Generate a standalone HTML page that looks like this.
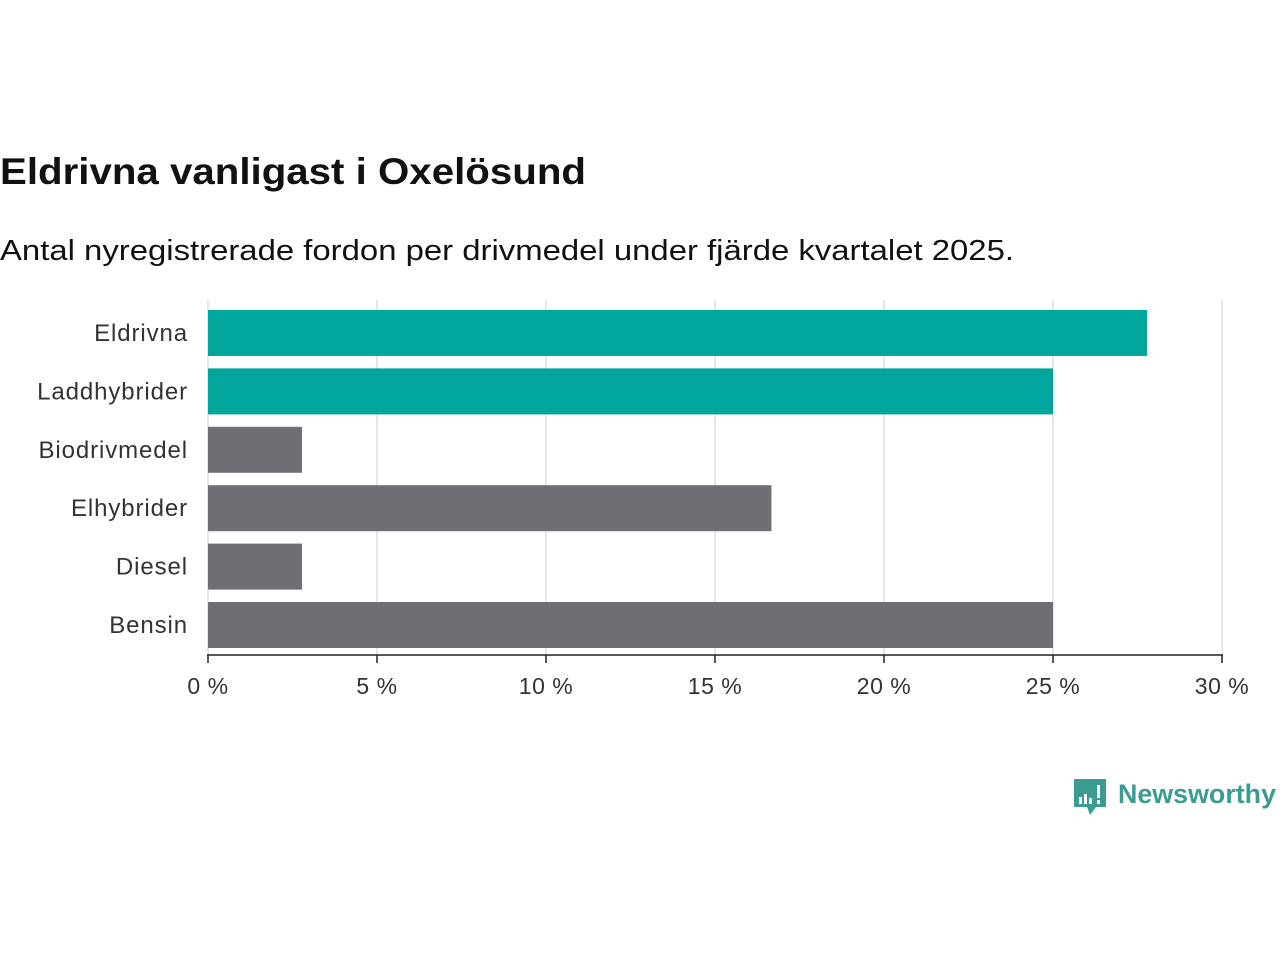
<!DOCTYPE html>
<html><head><meta charset="utf-8"><style>
body{margin:0;background:#fff;font-family:"Liberation Sans",sans-serif;}
</style></head><body>
<svg width="1280" height="960" xmlns="http://www.w3.org/2000/svg">
<text x="0" y="184" font-size="37" font-weight="bold" fill="#111" textLength="586" lengthAdjust="spacingAndGlyphs">Eldrivna vanligast i Oxelösund</text>
<text x="0" y="260" font-size="29" fill="#111" textLength="1014" lengthAdjust="spacingAndGlyphs">Antal nyregistrerade fordon per drivmedel under fjärde kvartalet 2025.</text>
<g id="grid"></g><g id="bars"></g><g id="axis"></g>
<g>
<path d="M1074 779 h32 v28 h-10 l-6 8 l-3 -8 h-13 z" fill="#3a9c93"/>
<rect x="1079" y="797" width="3" height="7" fill="#fff"/><rect x="1084" y="794" width="3" height="10" fill="#fff"/><rect x="1089" y="798" width="3" height="6" fill="#fff"/><rect x="1097" y="785" width="3" height="13" fill="#fff"/><rect x="1097" y="800" width="3" height="4" fill="#fff"/>
<text x="1118" y="803" font-size="27" font-weight="bold" fill="#3a9c93" textLength="158" lengthAdjust="spacingAndGlyphs">Newsworthy</text>
</g>
</svg>
<script>
const categories=["Eldrivna","Laddhybrider","Biodrivmedel","Elhybrider","Diesel","Bensin"];
const values=[27.78,25.0,2.78,16.67,2.78,25.0];
const highlight=[true,true,false,false,false,false];
const ticks=[0,5,10,15,20,25,30];
const ns="http://www.w3.org/2000/svg";
const x=v=>208+v*(1222-208)/30;
const y=i=>310+i*58.4;
function mk(t,a,p){const e=document.createElementNS(ns,t);for(const k in a)e.setAttribute(k,a[k]);p.appendChild(e);return e;}
const G=document.getElementById('grid'),B=document.getElementById('bars'),A=document.getElementById('axis');
ticks.forEach(t=>{
 const l=mk('line',{x1:x(t),x2:x(t),y1:300,y2:655,stroke:'#ddd','stroke-width':1.5},G);
 
 
 const k=mk('line',{x1:x(t),x2:x(t),y1:655,y2:663,stroke:'#222','stroke-width':1.5},A);
 
 
 const tx=mk('text',{x:x(t),y:694,'font-size':23,'text-anchor':'middle',fill:'#333','letter-spacing':0.5},A);
 tx.textContent=t+' %';
 
 
});
const ax=mk('line',{x1:207,x2:1223,y1:655,y2:655,stroke:'#222','stroke-width':1.5},A);


categories.forEach((c,i)=>{
 const r=mk('rect',{x:208,y:y(i),width:x(values[i])-208,height:46,fill:highlight[i]?'#00a59b':'#6f6e75'},B);
 
 
 const t=mk('text',{x:188,y:y(i)+31,'font-size':24,'text-anchor':'end',fill:'#333','letter-spacing':0.9},A);
 t.textContent=c;
 
 
});
</script>
</body></html>
